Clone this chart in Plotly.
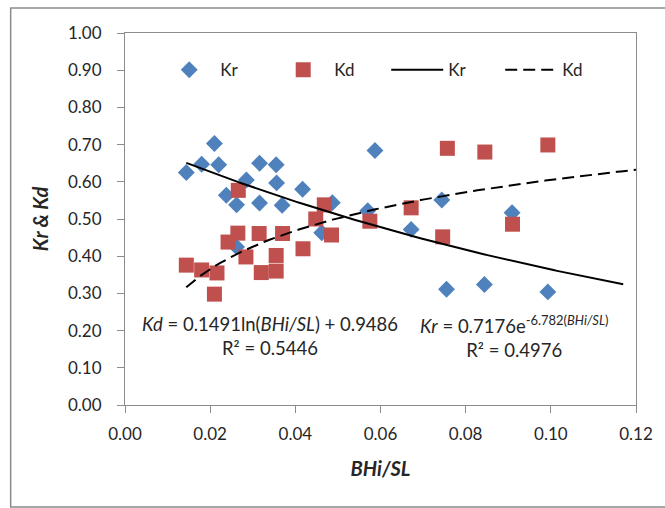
import numpy as np
import plotly.graph_objects as go

# ---- data ----
kr_x = [0.0144, 0.0180, 0.0210, 0.0220, 0.0238, 0.0262, 0.0262, 0.0285, 0.0316, 0.0316, 0.0355, 0.0356,
        0.0369, 0.0417, 0.0462, 0.0487, 0.0570, 0.0587, 0.0672, 0.0744, 0.0755, 0.0844, 0.0909, 0.0993]
kr_y = [0.625, 0.647, 0.703, 0.646, 0.564, 0.538, 0.425, 0.605, 0.650, 0.543, 0.646, 0.597,
        0.537, 0.580, 0.463, 0.544, 0.522, 0.684, 0.472, 0.551, 0.311, 0.324, 0.517, 0.304]

kd_x = [0.0144, 0.0180, 0.0216, 0.0210, 0.0242, 0.0265, 0.0266, 0.0284, 0.0315, 0.0320, 0.0355, 0.0355,
        0.0370, 0.0418, 0.0448, 0.0468, 0.0485, 0.0575, 0.0672, 0.0746, 0.0757, 0.0845, 0.0910, 0.0993]
kd_y = [0.376, 0.363, 0.355, 0.298, 0.438, 0.462, 0.577, 0.398, 0.461, 0.356, 0.402, 0.360,
        0.461, 0.420, 0.500, 0.538, 0.457, 0.494, 0.530, 0.452, 0.690, 0.680, 0.486, 0.699]

# fitted trendline coefficients shown on the chart
kr_a, kr_b = 0.7176, -6.782      # Kr = a * exp(b x)
kd_a, kd_b = 0.1491, 0.9486      # Kd = a ln(x) + b
kr_fit_range = (0.0144, 0.117)
kd_fit_range = (0.0144, 0.12)

x_ticks = [0.00, 0.02, 0.04, 0.06, 0.08, 0.10, 0.12]
y_ticks = [0.0, 0.1, 0.2, 0.3, 0.4, 0.5, 0.6, 0.7, 0.8, 0.9, 1.0]

FONT = "Lato"
TXT = "#262626"
BLUE = "#4F81BD"
RED = "#C0504D"
AX = "#8c8c8c"

xf1 = np.linspace(*kr_fit_range, 120)
yf1 = kr_a * np.exp(kr_b * xf1)
xf2 = np.linspace(*kd_fit_range, 120)
yf2 = kd_a * np.log(xf2) + kd_b

fig = go.Figure()
fig.add_trace(go.Scatter(x=kr_x, y=kr_y, mode="markers", name="Kr",
                         marker=dict(symbol="diamond", size=13, color=BLUE)))
fig.add_trace(go.Scatter(x=kd_x, y=kd_y, mode="markers", name="Kd",
                         marker=dict(symbol="square", size=15, color=RED)))
fig.add_trace(go.Scatter(x=xf1, y=yf1, mode="lines", name="Kr",
                         line=dict(color="black", width=2)))
fig.add_trace(go.Scatter(x=xf2, y=yf2, mode="lines", name="Kd",
                         line=dict(color="black", width=2, dash="12px,6px")))

axis_common = dict(showgrid=False, zeroline=False, showline=True, linecolor=AX, linewidth=1,
                   mirror=True, ticks="outside", tickcolor=AX, ticklen=7,
                   tickfont=dict(family=FONT, size=17, color=TXT), tickformat=".2f")

fig.update_xaxes(range=[0, 0.12], tickvals=x_ticks, ticklabelstandoff=7,
                 title=dict(text="<b><i>BHi/SL</i></b>", font=dict(family=FONT, size=20, color=TXT), standoff=18),
                 **axis_common)
fig.update_yaxes(range=[0, 1.0], tickvals=y_ticks, ticklabelstandoff=12,
                 title=dict(text="<b><i>Kr &amp; Kd</i></b>", font=dict(family=FONT, size=20, color=TXT), standoff=14),
                 **axis_common)

fig.add_annotation(x=0.0341, y=0.185, xref="x", yref="y", showarrow=False, align="center",
                   text="<i>Kd</i> = 0.1491ln(<i>BHi/SL</i>) + 0.9486<br>R² = 0.5446",
                   font=dict(family=FONT, size=18.5, color=TXT))
fig.add_annotation(x=0.0915, y=0.185, xref="x", yref="y", showarrow=False, align="center",
                   text="<i>Kr</i> = 0.7176e<sup>-6.782(<i>BHi/SL</i>)</sup><br>R² = 0.4976",
                   font=dict(family=FONT, size=18.5, color=TXT))

# outer chart frame
fig.add_shape(type="rect", xref="paper", yref="paper",
              x0=(10 - 125) / 514, x1=(672 - 125) / 514, y0=(405 - 507) / 372, y1=(405 - 8) / 372,
              line=dict(color="#8a8a8a", width=1.5), fillcolor="rgba(0,0,0,0)", layer="below")

fig.update_layout(
    width=665, height=508,
    margin=dict(l=125, r=26, t=33, b=103),
    paper_bgcolor="white", plot_bgcolor="white",
    font=dict(family=FONT, size=17, color=TXT),
    legend=dict(orientation="h", x=0.065, y=0.90, xanchor="left", yanchor="middle",
                bgcolor="rgba(0,0,0,0)", entrywidth=47, entrywidthmode="pixels", itemwidth=52,
                font=dict(family=FONT, size=17, color=TXT)),
    showlegend=True,
)

fig.write_html("out.html", config={"displayModeBar": False},
               post_script="document.body.style.margin='0';document.body.style.overflow='hidden';")
